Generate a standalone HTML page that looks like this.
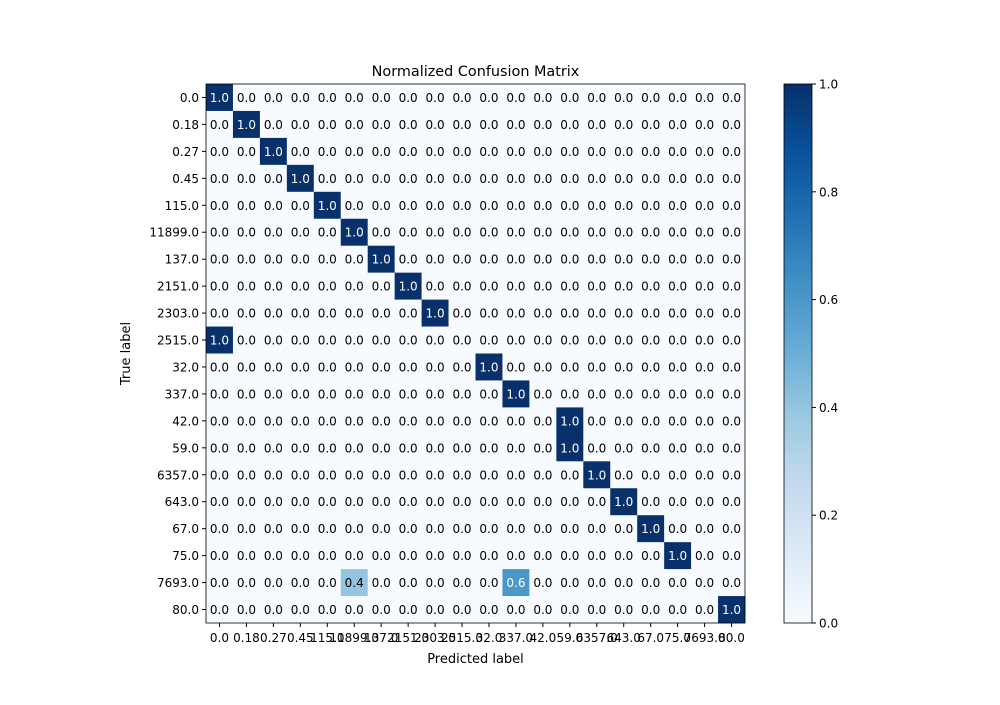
<!DOCTYPE html>
<html><head><meta charset="utf-8"><style>
body{margin:0;background:#fff;}
svg text{font-family:"DejaVu Sans","Liberation Sans",sans-serif;}
</style></head><body>
<svg id="chart" width="1000" height="700" xmlns="http://www.w3.org/2000/svg">
<text x="475.5" y="76" text-anchor="middle" font-size="14.4">Normalized Confusion Matrix</text>
<text x="475.5" y="663" text-anchor="middle" font-size="13">Predicted label</text>
<text transform="translate(130,353.5) rotate(-90)" text-anchor="middle" font-size="13">True label</text>
<g id="cells"></g><g id="ticks"></g><g id="cbar"></g>
</svg>
<script>
const labels=["0.0","0.18","0.27","0.45","115.0","11899.0","137.0","2151.0","2303.0","2515.0","32.0","337.0","42.0","59.0","6357.0","643.0","67.0","75.0","7693.0","80.0"];
const nonzeroRows=[0,1,2,3,4,5,6,7,8,9,10,11,12,13,14,15,16,17,18,18,19];
const nonzeroCols=[0,1,2,3,4,5,6,7,8,0,10,11,13,13,14,15,16,17,5,11,19];
const nonzeroVals=[1,1,1,1,1,1,1,1,1,1,1,1,1,1,1,1,1,1,0.4,0.6,1];
const cbarTicks=[0,0.2,0.4,0.6,0.8,1.0];
const NS="http://www.w3.org/2000/svg";
const X0=206,Y0=84,W=539,H=539,n=labels.length,cw=W/n,ch=H/n;
const xS=i=>X0+i*cw, yS=i=>Y0+i*ch;
const stops=[[0,[247,251,255]],[0.125,[222,235,247]],[0.25,[198,219,239]],[0.375,[158,202,225]],[0.5,[107,174,214]],[0.625,[66,146,198]],[0.75,[33,113,181]],[0.875,[8,81,156]],[1,[8,48,107]]];
function col(v){for(let i=1;i<stops.length;i++){if(v<=stops[i][0]){const a=stops[i-1],b=stops[i],t=(v-a[0])/(b[0]-a[0]);return`rgb(${a[1].map((c,k)=>Math.round(c+(b[1][k]-c)*t)).join(',')})`;}}return'rgb(8,48,107)';}
function mk(t,at,p){const e=document.createElementNS(NS,t);for(const k in at)e.setAttribute(k,at[k]);p.appendChild(e);return e;}
const M=labels.map(()=>labels.map(()=>0));
nonzeroVals.forEach((v,k)=>{M[nonzeroRows[k]][nonzeroCols[k]]=v;});
const cells=document.getElementById('cells'),ticks=document.getElementById('ticks'),cb=document.getElementById('cbar');
for(let r=0;r<n;r++)for(let c=0;c<n;c++){const v=M[r][c];
const rc=mk('rect',{x:xS(c),y:yS(r),width:cw+0.3,height:ch+0.3,fill:col(v)},cells);


const t=mk('text',{x:xS(c)+cw/2,y:yS(r)+ch/2+4.5,'text-anchor':'middle','font-size':'12',fill:v>0.5?'#fff':'#000'},cells);
t.textContent=v.toFixed(1);

}
mk('rect',{x:X0,y:Y0,width:W,height:H,fill:'none',stroke:'#000','stroke-width':0.8},cells);
labels.forEach((l,i)=>{
mk('line',{x1:xS(i)+cw/2,x2:xS(i)+cw/2,y1:Y0+H,y2:Y0+H+4,stroke:'#000'},ticks);
const tx=mk('text',{x:xS(i)+cw/2,y:Y0+H+19,'text-anchor':'middle','font-size':'12'},ticks);tx.textContent=l;


mk('line',{x1:X0-4,x2:X0,y1:yS(i)+ch/2,y2:yS(i)+ch/2,stroke:'#000'},ticks);
const ty=mk('text',{x:X0-7,y:yS(i)+ch/2+4.5,'text-anchor':'end','font-size':'12'},ticks);ty.textContent=l;

});
const CX=784,CW=28;
const defs=mk('defs',{},cb);const g=mk('linearGradient',{id:'bl',x1:0,y1:1,x2:0,y2:0},defs);
stops.forEach(s=>mk('stop',{offset:s[0],'stop-color':col(s[0])},g));
const bar=mk('rect',{x:CX,y:Y0,width:CW,height:H,fill:'url(#bl)',stroke:'#000','stroke-width':0.8},cb);


cbarTicks.forEach(v=>{const y=Y0+H-v*H;
mk('line',{x1:CX+CW,x2:CX+CW+4,y1:y,y2:y,stroke:'#000'},cb);
const t=mk('text',{x:CX+CW+7,y:y+4.5,'font-size':'12'},cb);t.textContent=v.toFixed(1);

});
</script>
</body></html>
